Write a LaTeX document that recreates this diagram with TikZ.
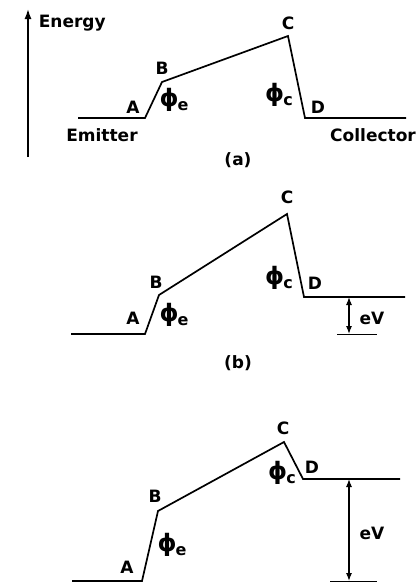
\documentclass[tikz,border=0pt]{standalone}
\usepackage{fontspec}
\setmainfont{DejaVu Sans}
\usetikzlibrary{arrows.meta}

\newcommand{\wf}[1]{{\fontsize{24}{24}\selectfont ϕ}\kern-1pt\raisebox{-4pt}{\fontsize{16}{16}\selectfont #1}}

\begin{document}
\begin{tikzpicture}[x=1pt,y=-1pt,line width=1.7pt,
  font=\bfseries\fontsize{17}{20}\selectfont,
  lbl/.style={inner sep=0pt},
  tip/.tip={Latex[length=8pt,width=6pt]},
  ev/.style={line width=1.1pt,tip-tip}]
\useasboundingbox (0,0) rectangle (416,582);
% energy axis
\coordinate (ebot) at (28,157);
\coordinate (etop) at (28,9);
\draw[line width=1.5pt,-{Latex[length=10pt,width=7pt]}] (ebot) -- (etop);
\node[lbl,anchor=west] (energy) at (38,23) {Energy};

% (a) no bias
\coordinate (ea) at (78,118);
\coordinate (Aa) at (145,118);
\coordinate (Ba) at (162,82);
\coordinate (Ca) at (288,36);
\coordinate (Da) at (305,118);
\coordinate (ca) at (406,118);
\draw (ea)--(Aa)--(Ba)--(Ca)--(Da)--(ca);
\node[lbl] (la) at (133,107) {A};
\node[lbl] (lb) at (162,68) {B};
\node[lbl] (lc) at (288,23) {C};
\node[lbl] (ld) at (318,107) {D};
\node[lbl] (pea) at (174,100) {\wf{e}};
\node[lbl] (pca) at (279,95) {\wf{c}};
\node[lbl] (emit) at (102,135) {Emitter};
\node[lbl] (coll) at (373,135) {Collector};
\node[lbl] (capa) at (238,160) {(a)};

% (b) small bias
\coordinate (eb) at (71,334);
\coordinate (Ab) at (145,334);
\coordinate (Bb) at (159,295);
\coordinate (Cb) at (287,214);
\coordinate (Db) at (304,297);
\coordinate (cb) at (405,297);
\draw (eb)--(Ab)--(Bb)--(Cb)--(Db)--(cb);
\node[lbl] (lab) at (133,318) {A};
\node[lbl] (lbb) at (156,282) {B};
\node[lbl] (lcb) at (287,197) {C};
\node[lbl] (ldb) at (315,283) {D};
\node[lbl] (peb) at (174,315) {\wf{e}};
\node[lbl] (pcb) at (279,278) {\wf{c}};
\coordinate (vtb) at (349,297);
\coordinate (vbb) at (349,334);
\draw[line width=1pt] (337,334) -- (377,334);
\draw[ev] (vbb) -- (vtb);
\node[lbl] (evb) at (372,318) {eV};
\node[lbl] (capb) at (238,363) {(b)};

% (c) large bias
\coordinate (ec) at (72,581);
\coordinate (Ac) at (142,581);
\coordinate (Bc) at (158,511);
\coordinate (Cc) at (284,442);
\coordinate (Dc) at (303,479);
\coordinate (cc) at (400,479);
\draw (ec)--(Ac)--(Bc)--(Cc)--(Dc)--(cc);
\node[lbl] (lac) at (127,567) {A};
\node[lbl] (lbc) at (155,496) {B};
\node[lbl] (lcc) at (283,428) {C};
\node[lbl] (ldc) at (312,467) {D};
\node[lbl] (pec) at (172,545) {\wf{e}};
\node[lbl] (pcc) at (282,473) {\wf{c}};
\coordinate (vtc) at (349,479);
\coordinate (vbc) at (349,581);
\draw[line width=1pt] (330,581) -- (377,581);
\draw[ev] (vbc) -- (vtc);
\node[lbl] (evc) at (372,533) {eV};
\end{tikzpicture}
\end{document}
